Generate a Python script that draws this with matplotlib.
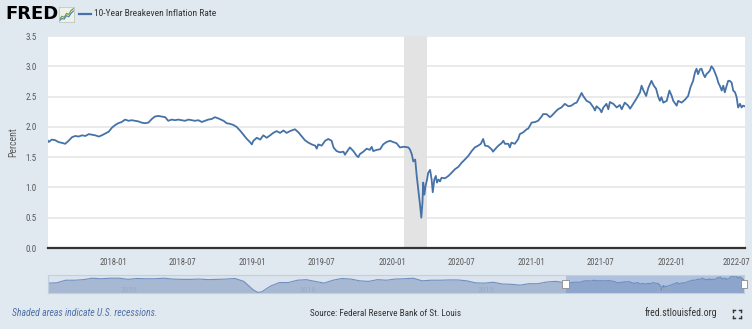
import matplotlib.pyplot as plt
import matplotlib.dates as mdates
import matplotlib.transforms as mtransforms
import pandas as pd

# 10-Year Breakeven Inflation Rate, percent (roughly weekly readings)
dates = [
    "2017-07-14", "2017-07-16", "2017-07-24", "2017-08-02", "2017-08-10", "2017-08-23",
    "2017-08-28", "2017-09-06", "2017-09-15", "2017-09-24", "2017-10-02", "2017-10-11",
    "2017-10-20", "2017-10-29", "2017-11-06", "2017-11-15", "2017-11-24", "2017-12-02",
    "2017-12-11", "2017-12-20", "2017-12-29", "2018-01-06", "2018-01-14", "2018-01-23",
    "2018-02-01", "2018-02-10", "2018-02-18", "2018-02-27", "2018-03-08", "2018-03-16",
    "2018-03-25", "2018-04-03", "2018-04-12", "2018-04-20", "2018-04-29", "2018-05-08",
    "2018-05-17", "2018-05-25", "2018-06-03", "2018-06-12", "2018-06-20", "2018-06-29",
    "2018-07-08", "2018-07-17", "2018-07-25", "2018-08-03", "2018-08-12", "2018-08-21",
    "2018-08-29", "2018-09-07", "2018-09-16", "2018-09-24", "2018-10-03", "2018-10-10",
    "2018-10-17", "2018-10-25", "2018-11-03", "2018-11-12", "2018-11-20", "2018-11-29",
    "2018-12-08", "2018-12-17", "2018-12-25", "2018-12-30", "2019-01-03", "2019-01-12",
    "2019-01-21", "2019-01-29", "2019-02-07", "2019-02-16", "2019-02-24", "2019-03-05",
    "2019-03-14", "2019-03-23", "2019-03-31", "2019-04-09", "2019-04-18", "2019-04-22",
    "2019-05-01", "2019-05-10", "2019-05-18", "2019-05-27", "2019-06-05", "2019-06-14",
    "2019-06-18", "2019-06-22", "2019-07-01", "2019-07-10", "2019-07-18", "2019-07-27",
    "2019-08-01", "2019-08-09", "2019-08-18", "2019-08-27", "2019-08-31", "2019-09-04",
    "2019-09-13", "2019-09-22", "2019-10-01", "2019-10-05", "2019-10-09", "2019-10-18",
    "2019-10-27", "2019-11-04", "2019-11-09", "2019-11-13", "2019-11-22", "2019-12-01",
    "2019-12-09", "2019-12-18", "2019-12-27", "2020-01-04", "2020-01-13", "2020-01-22",
    "2020-01-31", "2020-02-04", "2020-02-13", "2020-02-17", "2020-02-22", "2020-02-26",
    "2020-03-02", "2020-03-06", "2020-03-10", "2020-03-15", "2020-03-18", "2020-03-21",
    "2020-03-23", "2020-03-26", "2020-03-29", "2020-04-02", "2020-04-05", "2020-04-10",
    "2020-04-14", "2020-04-17", "2020-04-21", "2020-04-25", "2020-04-28", "2020-05-02",
    "2020-05-06", "2020-05-10", "2020-05-19", "2020-05-28", "2020-06-05", "2020-06-14",
    "2020-06-23", "2020-07-02", "2020-07-10", "2020-07-19", "2020-07-28", "2020-08-05",
    "2020-08-14", "2020-08-21", "2020-08-27", "2020-09-01", "2020-09-09", "2020-09-18",
    "2020-09-22", "2020-09-27", "2020-10-06", "2020-10-14", "2020-10-19", "2020-10-23",
    "2020-11-01", "2020-11-05", "2020-11-09", "2020-11-18", "2020-11-27", "2020-12-01",
    "2020-12-10", "2020-12-19", "2020-12-23", "2021-01-01", "2021-01-10", "2021-01-18",
    "2021-01-27", "2021-01-31", "2021-02-09", "2021-02-18", "2021-02-22", "2021-03-03",
    "2021-03-11", "2021-03-20", "2021-03-29", "2021-04-07", "2021-04-15", "2021-04-24",
    "2021-04-29", "2021-05-08", "2021-05-12", "2021-05-16", "2021-05-25", "2021-06-03",
    "2021-06-12", "2021-06-16", "2021-06-20", "2021-06-29", "2021-07-03", "2021-07-08",
    "2021-07-16", "2021-07-21", "2021-07-25", "2021-08-03", "2021-08-12", "2021-08-20",
    "2021-08-25", "2021-09-02", "2021-09-11", "2021-09-16", "2021-09-24", "2021-10-03",
    "2021-10-12", "2021-10-16", "2021-10-21", "2021-10-28", "2021-11-03", "2021-11-11",
    "2021-11-17", "2021-11-23", "2021-11-29", "2021-12-03", "2021-12-07", "2021-12-12",
    "2021-12-21", "2021-12-28", "2022-01-03", "2022-01-07", "2022-01-16", "2022-01-20",
    "2022-01-29", "2022-02-07", "2022-02-15", "2022-02-21", "2022-02-28", "2022-03-05",
    "2022-03-09", "2022-03-13", "2022-03-18", "2022-03-22", "2022-03-27", "2022-03-31",
    "2022-04-04", "2022-04-09", "2022-04-13", "2022-04-17", "2022-04-22", "2022-04-26",
    "2022-05-01", "2022-05-05", "2022-05-09", "2022-05-14", "2022-05-18", "2022-05-22",
    "2022-05-27", "2022-05-31", "2022-06-04", "2022-06-09", "2022-06-13", "2022-06-18",
    "2022-06-22", "2022-06-26", "2022-07-01", "2022-07-05", "2022-07-09", "2022-07-13",
]
rate = [
    1.77, 1.75, 1.79, 1.78, 1.75, 1.73,
    1.72, 1.77, 1.83, 1.85, 1.84, 1.86,
    1.85, 1.88, 1.87, 1.86, 1.84, 1.86,
    1.89, 1.92, 1.99, 2.03, 2.06, 2.08,
    2.12, 2.10, 2.11, 2.10, 2.09, 2.07,
    2.06, 2.07, 2.13, 2.17, 2.18, 2.17,
    2.16, 2.10, 2.12, 2.11, 2.12, 2.11,
    2.10, 2.12, 2.11, 2.10, 2.11, 2.08,
    2.10, 2.12, 2.13, 2.16, 2.14, 2.12,
    2.10, 2.06, 2.05, 2.03, 2.00, 1.94,
    1.87, 1.80, 1.75, 1.71, 1.77, 1.82,
    1.79, 1.86, 1.82, 1.86, 1.90, 1.93,
    1.90, 1.94, 1.90, 1.93, 1.95, 1.96,
    1.91, 1.84, 1.78, 1.74, 1.71, 1.69,
    1.64, 1.71, 1.69, 1.77, 1.80, 1.77,
    1.66, 1.60, 1.58, 1.59, 1.54, 1.58,
    1.66, 1.60, 1.52, 1.50, 1.55, 1.59,
    1.64, 1.62, 1.67, 1.60, 1.62, 1.63,
    1.71, 1.75, 1.77, 1.75, 1.73, 1.66,
    1.67, 1.67, 1.66, 1.63, 1.55, 1.43,
    1.46, 1.19, 0.97, 0.69, 0.50, 0.75,
    1.08, 0.88, 1.02, 1.13, 1.24, 1.29,
    1.13, 0.92, 1.13, 1.19, 1.08, 1.13,
    1.10, 1.16, 1.15, 1.19, 1.24, 1.30,
    1.34, 1.41, 1.46, 1.52, 1.60, 1.66,
    1.69, 1.72, 1.80, 1.69, 1.68, 1.63,
    1.59, 1.63, 1.69, 1.73, 1.77, 1.72,
    1.72, 1.66, 1.74, 1.72, 1.80, 1.88,
    1.91, 1.96, 1.97, 2.07, 2.08, 2.10,
    2.17, 2.21, 2.21, 2.16, 2.18, 2.24,
    2.29, 2.32, 2.38, 2.34, 2.35, 2.39,
    2.40, 2.51, 2.56, 2.51, 2.43, 2.40,
    2.32, 2.27, 2.34, 2.29, 2.24, 2.32,
    2.38, 2.29, 2.41, 2.38, 2.32, 2.36,
    2.29, 2.40, 2.35, 2.30, 2.38, 2.47,
    2.57, 2.68, 2.60, 2.51, 2.65, 2.76,
    2.68, 2.63, 2.49, 2.43, 2.49, 2.40,
    2.43, 2.60, 2.51, 2.43, 2.35, 2.43,
    2.40, 2.45, 2.51, 2.65, 2.76, 2.90,
    2.96, 2.87, 2.95, 2.96, 2.87, 2.82,
    2.87, 2.90, 2.93, 3.00, 2.96, 2.90,
    2.82, 2.73, 2.68, 2.60, 2.68, 2.57,
    2.68, 2.76, 2.76, 2.73, 2.60, 2.57,
    2.49, 2.32, 2.38, 2.32, 2.35, 2.34,
]

# earlier history shown only in the navigator strip (quarterly readings)
hist_dates = [
    "2003-01-02", "2003-04-01", "2003-07-01", "2003-10-01", "2004-01-01", "2004-04-01",
    "2004-07-01", "2004-10-01", "2005-01-01", "2005-04-01", "2005-07-01", "2005-10-01",
    "2006-01-01", "2006-04-01", "2006-07-01", "2006-10-01", "2007-01-01", "2007-04-01",
    "2007-07-01", "2007-10-01", "2008-01-01", "2008-04-01", "2008-07-01", "2008-10-01",
    "2008-11-20", "2008-12-31", "2009-04-01", "2009-07-01", "2009-10-01", "2010-01-01",
    "2010-04-01", "2010-07-01", "2010-10-01", "2011-01-01", "2011-04-01", "2011-07-01",
    "2011-10-01", "2012-01-01", "2012-04-01", "2012-07-01", "2012-10-01", "2013-01-01",
    "2013-04-01", "2013-07-01", "2013-10-01", "2014-01-01", "2014-04-01", "2014-07-01",
    "2014-10-01", "2015-01-01", "2015-04-01", "2015-07-01", "2015-10-01", "2016-01-01",
    "2016-04-01", "2016-07-01", "2016-10-01", "2017-01-01", "2017-04-01",
]
hist_rate = [
    1.70, 1.75, 2.20, 2.20, 2.30, 2.55,
    2.45, 2.55, 2.55, 2.35, 2.50, 2.45,
    2.45, 2.55, 2.40, 2.35, 2.35, 2.40,
    2.30, 2.35, 2.40, 2.50, 2.00, 0.60,
    0.10, 0.20, 1.20, 1.80, 1.80, 2.20,
    2.30, 2.00, 1.70, 2.20, 2.50, 2.40,
    2.10, 2.00, 2.30, 2.20, 2.40, 2.45,
    2.55, 2.10, 2.20, 2.20, 2.25, 2.25,
    2.10, 1.75, 1.70, 1.85, 1.55, 1.50,
    1.35, 1.60, 1.60, 1.90, 2.00,
]

recession = ("2020-02-01", "2020-04-01")
ticks = ["2018-01", "2018-07", "2019-01", "2019-07", "2020-01",
         "2020-07", "2021-01", "2021-07", "2022-01", "2022-07"]
nav_years = ["2005", "2010", "2015", "2020"]

BG = "#e1e9f0"
BLUE = "#4572a7"
GREY = "#595959"
FONT = ["Roboto Condensed", "Liberation Sans Narrow", "Roboto", "DejaVu Sans"]
plt.rcParams["font.family"] = FONT

x = pd.to_datetime(dates)
xlim = (pd.Timestamp("2017-07-14"), pd.Timestamp("2022-07-14"))

W, H = 752, 329
fig = plt.figure(figsize=(W / 100, H / 100), dpi=100, facecolor=BG)

# main plot
ax = fig.add_axes([48 / W, 81 / H, 697 / W, 212 / H], facecolor="white")
ax.axvspan(pd.Timestamp(recession[0]), pd.Timestamp(recession[1]),
           color="#e3e3e3", lw=0, zorder=1)
ax.plot(x, rate, color=BLUE, lw=1.3, zorder=3)
ax.set_xlim(*xlim)
ax.set_ylim(0, 3.5)
ax.set_yticks([i * 0.5 for i in range(8)])
ax.yaxis.set_major_formatter(plt.FormatStrFormatter("%.1f"))
ax.set_xticks(pd.to_datetime(ticks))
ax.xaxis.set_major_formatter(mdates.DateFormatter("%Y-%m"))
ax.grid(axis="y", color="#e6e6e6", lw=1.2, zorder=0)
ax.set_axisbelow(True)
for side in ("top", "left", "right"):
    ax.spines[side].set_visible(False)
ax.spines["bottom"].set_color("#333333")
ax.spines["bottom"].set_linewidth(1.6)
ax.spines["bottom"].set_zorder(4)
ax.tick_params(length=0, labelsize=6.5, labelcolor=GREY)
ax.tick_params(axis="x", pad=7, labelsize=6.2)
ax.tick_params(axis="y", pad=8)
# nudge the last date label so it stays inside the figure
last = ax.get_xticklabels()[-1]
last.set_transform(last.get_transform()
                   + mtransforms.ScaledTranslation(-4 / 100, 0, fig.dpi_scale_trans))
fig.text(13 / W, 1 - 142 / H, "Percent", rotation=90, fontsize=7, color=GREY,
         ha="center", va="center")

# navigator strip with the full history
nav = fig.add_axes([48 / W, 36 / H, 696 / W, 18 / H], facecolor="#dbe3ee")
nx = pd.to_datetime(hist_dates + dates)
ny = hist_rate + rate
nav.fill_between(nx, 0, ny, color="#a7b8d3", lw=0)
nav.plot(nx, ny, color="#6f8fbf", lw=0.8)
nav.axvspan(xlim[0], xlim[1], color="#5d83c2", alpha=0.35, lw=0)
nav.set_xlim(nx[0], xlim[1])
nav.set_ylim(0.0, 3.1)
nav.set_xticks([])
nav.set_yticks([])
for s in nav.spines.values():
    s.set_color("#c4cfdd")
    s.set_linewidth(0.8)
for yr in nav_years:
    nav.text(pd.Timestamp(yr + "-04-15"), 0.55, yr, fontsize=6, color="#9aabc4",
             ha="center", va="center")
for edge in xlim:
    nav.add_patch(plt.Rectangle((mdates.date2num(edge) - 35, 0.8), 70, 1.5,
                                facecolor="white", edgecolor="#8a8a8a", lw=0.6,
                                zorder=5, clip_on=False))

# header: logo and legend
fig.text(5 / W, 1 - 14 / H, "FRED", fontsize=13, fontweight="bold", color="black",
         family="DejaVu Sans", va="center", ha="left")
icon = fig.add_axes([59 / W, 1 - 22 / H, 15 / W, 15 / H], facecolor="#eef2e6")
icon.plot([0, 1, 2, 3, 4, 5, 6], [1, 2, 1.6, 3, 2.6, 4, 4.6], color="#6a9a3a", lw=0.8)
icon.plot([0, 1, 2, 3, 4, 5, 6], [0.5, 1.2, 1.0, 2.2, 1.8, 3.0, 3.8], color="#4b7bb8", lw=0.8)
icon.set_xlim(-0.3, 6.3)
icon.set_ylim(0, 5.2)
icon.set_xticks([])
icon.set_yticks([])
for s in icon.spines.values():
    s.set_color("#b9c3b0")
    s.set_linewidth(0.5)
fig.add_artist(plt.Line2D([79 / W, 91 / W], [1 - 14 / H, 1 - 14 / H], color=BLUE, lw=1.6))
fig.text(94 / W, 1 - 14 / H, "10-Year Breakeven Inflation Rate", fontsize=6.8,
         color="#333333", va="center", ha="left")

# footer
fig.text(12 / W, 1 - 313 / H, "Shaded areas indicate U.S. recessions.", fontsize=7,
         style="italic", color="#4f6fa5", va="center", ha="left")
fig.text(310 / W, 1 - 313 / H, "Source: Federal Reserve Bank of St. Louis", fontsize=6.6,
         color="#333333", va="center", ha="left")
fig.text(645 / W, 1 - 313 / H, "fred.stlouisfed.org", fontsize=7,
         color="#333333", va="center", ha="left")
cx, cy, r, k = 737, 314, 4, 2
for sx in (-1, 1):
    for sy in (-1, 1):
        px, py = cx + sx * r, cy + sy * r
        fig.add_artist(plt.Line2D([px / W, (px - sx * k) / W], [1 - py / H, 1 - py / H],
                                  color="#333333", lw=1))
        fig.add_artist(plt.Line2D([px / W, px / W], [1 - py / H, 1 - (py - sy * k) / H],
                                  color="#333333", lw=1))

fig.savefig("out.png", dpi=100, facecolor=BG)
